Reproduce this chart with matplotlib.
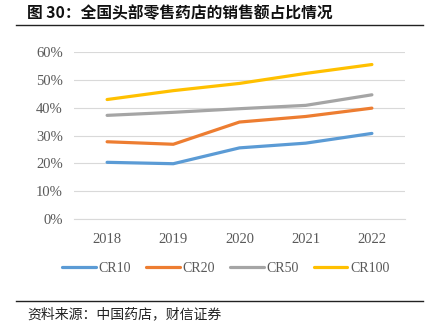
import matplotlib
matplotlib.use("Agg")
import matplotlib.pyplot as plt
from matplotlib.lines import Line2D
from matplotlib.ticker import FuncFormatter

years = ["2018", "2019", "2020", "2021", "2022"]
cr10 = [20.4, 19.9, 25.6, 27.3, 30.8]
cr20 = [27.8, 26.9, 34.9, 36.9, 39.9]
cr50 = [37.3, 38.4, 39.7, 40.9, 44.7]
cr100 = [43.0, 46.2, 48.8, 52.4, 55.6]
series_names = ["CR10", "CR20", "CR50", "CR100"]
colors = ["#5B9BD5", "#ED7D31", "#A5A5A5", "#FFC000"]

W, H = 433, 331
fig = plt.figure(figsize=(W / 100, H / 100), dpi=100)
ax = fig.add_axes([74 / W, (H - 219) / H, (405 - 74) / W, (219 - 52.3) / H])

x = list(range(len(years)))
for name, vals, c in zip(series_names, [cr10, cr20, cr50, cr100], colors):
    ax.plot(x, vals, color=c, lw=2.3, label=name, solid_capstyle="round")

ax.set_xlim(-0.5, len(years) - 0.5)
ax.set_ylim(0, 60)
ax.set_yticks(range(0, 61, 10))
ax.yaxis.set_major_formatter(FuncFormatter(lambda v, p: f"{int(v)}%"))
ax.set_xticks(x)
ax.set_xticklabels(years)
ax.grid(axis="y", color="#D9D9D9", lw=0.8)
ax.set_axisbelow(True)
for s in ["top", "right", "left"]:
    ax.spines[s].set_visible(False)
ax.spines["bottom"].set_color("#D9D9D9")
ax.spines["bottom"].set_linewidth(0.8)
ax.tick_params(length=0, labelsize=10.5, colors="#595959", pad=8)
for lab in ax.get_xticklabels() + ax.get_yticklabels():
    lab.set_fontfamily("Liberation Serif")
ax.tick_params(axis="x", pad=10)

handles = [Line2D([0], [0], color=c, lw=2.3, solid_capstyle="round") for c in colors]
leg = fig.legend(handles, series_names, loc="center", bbox_to_anchor=(226 / W, 1 - 268 / H),
                 ncol=4, frameon=False, handlelength=2.4, handletextpad=0.2,
                 columnspacing=1.1, prop={"family": "Liberation Serif", "size": 10})
for t in leg.get_texts():
    t.set_color("#595959")

fig.text(27 / W, 1 - 13 / H, "图 30：全国头部零售药店的销售额占比情况",
         fontsize=11.3, fontweight="bold", family=["Noto Sans CJK SC", "DejaVu Sans"],
         ha="left", va="center", color="#111111")
fig.add_artist(Line2D([16 / W, 423 / W], [1 - 24.5 / H, 1 - 24.5 / H], color="#222222", lw=1.0))
fig.add_artist(Line2D([16 / W, 423 / W], [1 - 300.5 / H, 1 - 300.5 / H], color="#222222", lw=1.0))
fig.text(27 / W, 1 - 314 / H, "资料来源：中国药店，财信证券", fontsize=10, style="italic",
         family=["Noto Sans CJK SC", "DejaVu Sans"], ha="left", va="center", color="#222222")

fig.savefig("out.png", dpi=100, facecolor="white")
